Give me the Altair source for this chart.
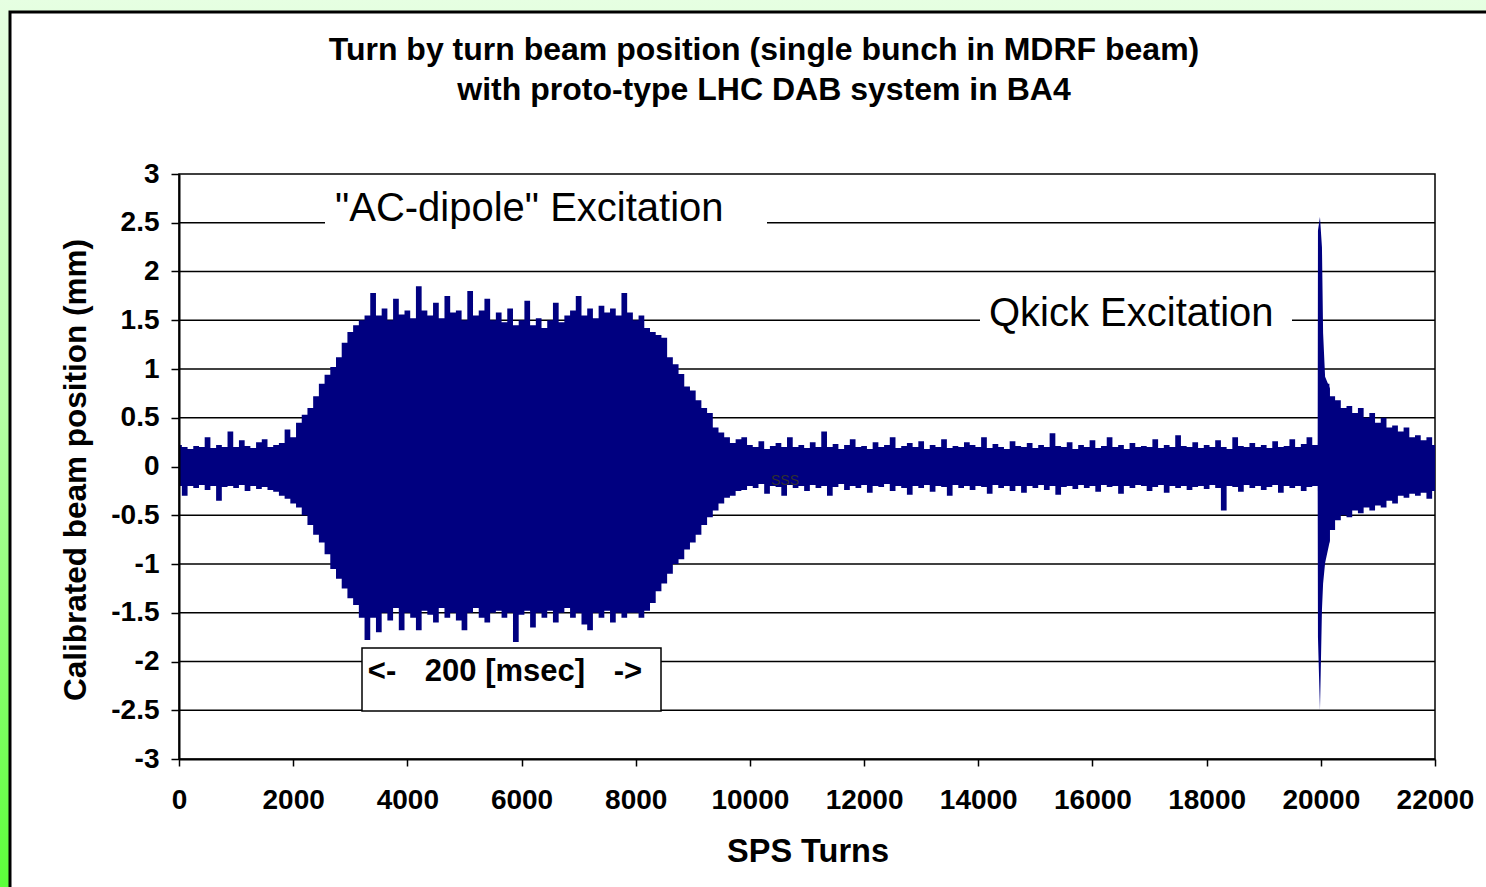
import altair as alt
import pandas as pd

# ---------------- data ----------------
turns = list(range(0, 22001, 100))

upper = (
    # 0 - 2000 : noise
    [0.22, 0.2, 0.18, 0.21, 0.2, 0.3, 0.19, 0.22, 0.2, 0.36, 0.2, 0.27, 0.21, 0.19, 0.25, 0.28, 0.2, 0.22, 0.24, 0.38, 0.3]
    # 2100 - 3300 : ramp up
    + [0.45, 0.53, 0.6, 0.72, 0.85, 0.94, 1.02, 1.12, 1.27, 1.38, 1.45, 1.5, 1.55]
    # 3400 - 7900 : AC-dipole plateau
    + [1.78, 1.55, 1.62, 1.5, 1.72, 1.56, 1.6, 1.52, 1.85, 1.6,
       1.55, 1.68, 1.52, 1.75, 1.58, 1.6, 1.5, 1.8, 1.55, 1.6,
       1.72, 1.5, 1.58, 1.48, 1.62, 1.45, 1.5, 1.7, 1.45, 1.52,
       1.42, 1.5, 1.68, 1.48, 1.55, 1.6, 1.75, 1.55, 1.62, 1.52,
       1.65, 1.58, 1.62, 1.55, 1.78, 1.58]
    # 8000 - 9800 : ramp down
    + [1.5, 1.55, 1.42, 1.38, 1.35, 1.32, 1.12, 1.05, 0.95, 0.82,
       0.78, 0.68, 0.6, 0.55, 0.4, 0.35, 0.3, 0.24, 0.28]
    # 9900 - 19900 : noise
    + [0.3, 0.22, 0.2, 0.26, 0.18, 0.21, 0.24, 0.2, 0.3, 0.2,
       0.22, 0.19, 0.25, 0.2, 0.36, 0.2, 0.23, 0.18, 0.22, 0.28,
       0.2, 0.21, 0.18, 0.25, 0.2, 0.22, 0.3, 0.19, 0.21, 0.24,
       0.2, 0.26, 0.18, 0.22, 0.2, 0.28, 0.19, 0.21, 0.2, 0.25,
       0.22, 0.2, 0.3, 0.19, 0.23, 0.2, 0.18, 0.26, 0.21, 0.2,
       0.24, 0.19, 0.22, 0.2, 0.34, 0.21, 0.2, 0.25, 0.18, 0.22,
       0.2, 0.27, 0.19, 0.21, 0.3, 0.2, 0.22, 0.18, 0.24, 0.2,
       0.21, 0.2, 0.28, 0.19, 0.22, 0.2, 0.32, 0.21, 0.2, 0.25,
       0.19, 0.22, 0.2, 0.27, 0.2, 0.18, 0.3, 0.21, 0.2, 0.24,
       0.2, 0.22, 0.19, 0.26, 0.2, 0.21, 0.28, 0.2, 0.23, 0.3,
       0.22]
    # 20000
    + [0.25]
    # 20100 - 22000 : decay after Qkick
    + [0.85, 0.72, 0.68, 0.6, 0.62, 0.55, 0.6, 0.5, 0.55, 0.45,
       0.5, 0.4, 0.42, 0.36, 0.4, 0.3, 0.32, 0.27, 0.3, 0.22]
)

lower = (
    [-0.2, -0.3, -0.2, -0.22, -0.19, -0.24, -0.2, -0.35, -0.21, -0.2, -0.22, -0.19, -0.25, -0.2, -0.23, -0.21, -0.24, -0.26, -0.3, -0.33, -0.38]
    + [-0.42, -0.5, -0.6, -0.7, -0.78, -0.9, -1.05, -1.15, -1.25, -1.35, -1.42, -1.55, -1.78]
    + [-1.55, -1.7, -1.5, -1.58, -1.45, -1.68, -1.5, -1.55, -1.68, -1.48,
       -1.52, -1.6, -1.45, -1.55, -1.5, -1.58, -1.68, -1.5, -1.45, -1.55,
       -1.6, -1.5, -1.48, -1.55, -1.5, -1.8, -1.52, -1.48, -1.65, -1.5,
       -1.55, -1.48, -1.6, -1.5, -1.45, -1.55, -1.5, -1.62, -1.68, -1.5,
       -1.55, -1.48, -1.6, -1.5, -1.55, -1.5]
    + [-1.5, -1.55, -1.48, -1.4, -1.28, -1.2, -1.1, -1.0, -0.95, -0.85,
       -0.78, -0.7, -0.6, -0.52, -0.45, -0.38, -0.32, -0.3, -0.25]
    + [-0.24, -0.2, -0.22, -0.18, -0.28, -0.2, -0.21, -0.3, -0.19, -0.22,
       -0.2, -0.25, -0.19, -0.22, -0.2, -0.3, -0.21, -0.18, -0.24, -0.2,
       -0.22, -0.19, -0.27, -0.2, -0.21, -0.18, -0.25, -0.2, -0.22, -0.29,
       -0.2, -0.22, -0.19, -0.26, -0.2, -0.21, -0.3, -0.19, -0.22, -0.2,
       -0.24, -0.2, -0.21, -0.28, -0.19, -0.22, -0.2, -0.25, -0.2, -0.27,
       -0.2, -0.22, -0.19, -0.24, -0.2, -0.29, -0.21, -0.2, -0.23, -0.19,
       -0.22, -0.2, -0.26, -0.19, -0.21, -0.2, -0.28, -0.2, -0.22, -0.19,
       -0.2, -0.25, -0.21, -0.19, -0.27, -0.2, -0.22, -0.2, -0.24, -0.21,
       -0.2, -0.23, -0.19, -0.22, -0.45, -0.2, -0.21, -0.26, -0.19, -0.22,
       -0.2, -0.24, -0.21, -0.19, -0.27, -0.2, -0.22, -0.2, -0.25, -0.21,
       -0.2]
    + [-0.25]
    + [-0.78, -0.65, -0.55, -0.5, -0.52, -0.45, -0.48, -0.42, -0.45, -0.4,
       -0.42, -0.35, -0.38, -0.3, -0.32, -0.28, -0.3, -0.27, -0.33, -0.25]
)

assert len(upper) == len(turns) and len(lower) == len(turns)

# Qkick spike (finer sampling around turn 20000)
kick_turns = [19945, 19950, 19985, 20020, 20040, 20075, 20160]
kick_upper = [0.2, 2.42, 2.56, 2.25, 1.37, 0.92, 0.8]
kick_lower = [-0.2, -1.75, -2.5, -1.47, -1.2, -0.99, -0.76]

y_ticks = [-3, -2.5, -2, -1.5, -1, -0.5, 0, 0.5, 1, 1.5, 2, 2.5, 3]
x_ticks = [0, 2000, 4000, 6000, 8000, 10000, 12000, 14000, 16000, 18000, 20000, 22000]
grid_values = [-2.5, -2, -1.5, -1, -0.5, 0, 0.5, 1, 1.5, 2, 2.5]

title_lines = ["Turn by turn beam position (single bunch in MDRF beam)",
               "with proto-type LHC DAB system in BA4"]
y_title = "Calibrated beam position (mm)"
x_title = "SPS Turns"

# ---------------- layout ----------------
W, H = 1256, 585
PL, PT = 179, 174
FONT = "Liberation Sans"
NAVY = "#000080"

signal = pd.DataFrame({"turns": turns, "upper": upper, "lower": lower})
kick = pd.DataFrame({"turns": kick_turns, "upper": kick_upper, "lower": kick_lower})
grid_df = pd.DataFrame({"v": grid_values})
one = pd.DataFrame({"a": [0]})

x_scale = alt.Scale(domain=[0, 22000], nice=False, zero=False)
y_scale = alt.Scale(domain=[-3, 3], nice=False, zero=False)

common_axis = dict(
    labelFont=FONT, labelFontWeight="bold", labelFontSize=28, labelColor="black",
    tickColor="black", tickWidth=1.5, domainColor="black", domainWidth=2,
    grid=False, zindex=1, title="", labelExpr="toString(datum.value)",
    labelOverlap=False, labelFlush=False,
)
x_axis = alt.Axis(values=x_ticks, tickSize=7, labelPadding=20, labelAngle=0, **common_axis)
y_axis = alt.Axis(values=y_ticks, tickSize=8, labelPadding=12, **common_axis)


def rect(x1, x2, y1, y2, **kw):
    return alt.Chart(one).mark_rect(**kw).encode(
        x=alt.value(x1), x2=alt.value(x2), y=alt.value(y1), y2=alt.value(y2))


def txt(s, x, y, size, weight="normal", align="center", angle=0, color="black"):
    return alt.Chart(pd.DataFrame({"label": [s]})).mark_text(
        font=FONT, fontSize=size, fontWeight=weight, align=align, baseline="middle",
        angle=angle, color=color,
    ).encode(x=alt.value(x), y=alt.value(y), text="label:N")


gradient = alt.Gradient(
    gradient="linear", x1=0, x2=0, y1=0, y2=1,
    stops=[alt.GradientStop(offset=0, color="#e6ffe2"),
           alt.GradientStop(offset=0.45, color="#b8ffa8"),
           alt.GradientStop(offset=1, color="#5cff3a")],
)

background = rect(-PL, 1486 - PL, -PT, 887 - PT, color=gradient)
frame = rect(10 - PL, 1500 - PL, 12 - PT, 900 - PT, fill="white", stroke="black", strokeWidth=3)
plot_border = rect(0, W, 0, H, fill="white", fillOpacity=0, stroke="black", strokeWidth=1.5)

grid = alt.Chart(grid_df).mark_rule(color="black", strokeWidth=1.5).encode(
    y=alt.Y("v:Q", scale=y_scale, axis=y_axis), x=alt.value(0), x2=alt.value(W))

area = alt.Chart(signal).mark_area(color=NAVY, opacity=1, interpolate="step").encode(
    x=alt.X("turns:Q", scale=x_scale, axis=x_axis),
    y=alt.Y("lower:Q", scale=y_scale, axis=y_axis),
    y2="upper:Q",
)
kick_area = alt.Chart(kick).mark_area(color=NAVY, opacity=1).encode(
    x=alt.X("turns:Q", scale=x_scale, axis=x_axis),
    y=alt.Y("lower:Q", scale=y_scale, axis=y_axis),
    y2="upper:Q",
)

ac_bg = rect(325 - PL, 767 - PL, 190 - PT, 230 - PT, fill="white")
ac_txt = txt('"AC-dipole" Excitation', 335 - PL, 209 - PT, 40, align="left")
qk_bg = rect(980 - PL, 1292 - PL, 296 - PT, 336 - PT, fill="white")
qk_txt = txt("Qkick Excitation", 989 - PL, 314 - PT, 40, align="left")

box = rect(362 - PL, 661 - PL, 648 - PT, 711 - PT, fill="white", stroke="black", strokeWidth=1.5)
box_l = txt("<-", 382 - PL, 672 - PT, 31, weight="bold")
box_c = txt("200 [msec]", 505 - PL, 672 - PT, 31, weight="bold")
box_r = txt("->", 628 - PL, 672 - PT, 31, weight="bold")
sss = txt("SSS", 785 - PL, 481 - PT, 14, color="#303030")

t1 = txt(title_lines[0], 764 - PL, 50 - PT, 32, weight="bold")
t2 = txt(title_lines[1], 764 - PL, 90 - PT, 32, weight="bold")
yt = txt(y_title, 77 - PL, 470 - PT, 31.5, weight="bold", angle=270)
xt = txt(x_title, 808 - PL, 852 - PT, 32.5, weight="bold")

chart = alt.layer(
    background, frame, plot_border, grid, area, kick_area,
    ac_bg, ac_txt, qk_bg, qk_txt, box, box_l, box_c, box_r, sss,
    t1, t2, yt, xt,
).properties(
    width=W, height=H,
    autosize=alt.AutoSizeParams(type="none"),
    padding={"left": PL, "top": PT, "right": 1486 - PL - W, "bottom": 887 - PT - H},
).configure_view(stroke=None).configure(background="white")

chart.save("out.html", embed_options={"renderer": "svg", "actions": False})
